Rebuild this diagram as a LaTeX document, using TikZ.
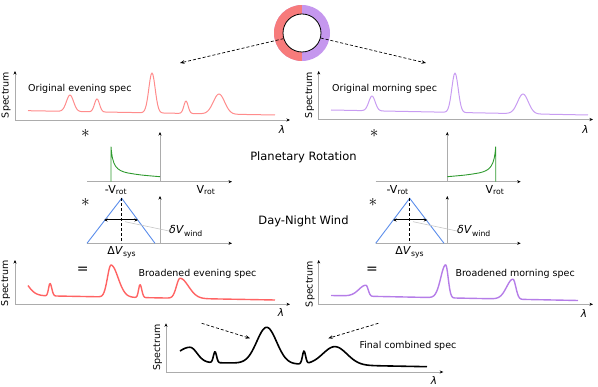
\documentclass[tikz,border=0pt]{standalone}
\usepackage{fontspec}
\setmainfont{DejaVu Sans}
\usepackage{xcolor}
\usepackage{tikz}
\usetikzlibrary{arrows.meta}

\definecolor{ringred}{HTML}{F77B7B}
\definecolor{ringpurple}{HTML}{C597EE}
\definecolor{origred}{HTML}{FF8C8C}
\definecolor{origpurple}{HTML}{C89CF2}
\definecolor{broadred}{HTML}{FF6363}
\definecolor{broadpurple}{HTML}{B57DE8}
\definecolor{kernelgreen}{HTML}{2E9A2E}
\definecolor{windblue}{HTML}{5B8DEB}

\begin{document}
\begin{tikzpicture}[
    x=1pt, y=-1pt,
    declare function={
        gpk(\xx,\cc,\ww)=exp(-min(abs((\xx-\cc)/\ww),5)*min(abs((\xx-\cc)/\ww),5));
        skw(\xx,\cc,\lft,\rgt)=min(abs((\xx-\cc)/((\xx<\cc)?\lft:\rgt)),5);
        apk(\xx,\cc,\lft,\rgt)=exp(-skw(\xx,\cc,\lft,\rgt)*skw(\xx,\cc,\lft,\rgt));
    },
    >={Stealth[length=3.5pt, width=3pt, color=black]},
    axisline/.style={draw=gray!65, line width=0.8pt, ->},
    axispair/.style={draw=gray!65, line width=0.8pt, <->},
    link/.style={densely dashed, line width=0.7pt, -{Stealth[length=4.5pt, width=3.5pt]}},
    txt/.style={font=\fontsize{9.5}{11}\selectfont, inner sep=0pt},
    ylab/.style={txt, rotate=90},
    lam/.style={font=\fontsize{10.5}{12}\selectfont\itshape, inner sep=0pt},
    heading/.style={font=\fontsize{11.5}{13}\selectfont, inner sep=0pt},
    vel/.style={font=\fontsize{11}{13}\selectfont, inner sep=0pt},
    conv/.style={font=\fontsize{18}{18}\selectfont, inner sep=0pt},
    eqsign/.style={font=\fontsize{14}{14}\selectfont, inner sep=0pt},
    evorig/.style={origred, line width=1pt, line join=round},
    moorig/.style={origpurple, line width=1pt, line join=round},
    evbroad/.style={broadred, line width=1.4pt, line join=round},
    mobroad/.style={broadpurple, line width=1.4pt, line join=round},
    combined/.style={black, line width=1.6pt, line join=round},
    kernel/.style={kernelgreen, line width=0.9pt},
    wind/.style={windblue, line width=0.9pt},
    mid/.style={densely dashed, line width=0.6pt},
    spread/.style={<->, line width=1pt},
    leader/.style={gray!45, line width=0.6pt}
]
    \useasboundingbox (0,0) rectangle (598,387);

    % planet with evening and morning limbs
    \node[circle, minimum size=56pt, inner sep=0pt, fill=ringpurple,
          path picture={\fill[ringred] (path picture bounding box.south west) rectangle (path picture bounding box.north);}]
          (ring) at (302,33) {};
    \node[circle, draw, line width=0.8pt, fill=white, minimum size=38pt, inner sep=0pt] (planet) at (302,33) {};
    \coordinate (ev-in) at (180,63);
    \coordinate (mo-in) at (426,63);
    \draw[link] (planet.197) -- (ev-in);
    \draw[link] (planet.345) -- (mo-in);

    % original spectra
    \draw[axispair] (15,71) |- (290,120);
    \node[ylab] (ev-y) at (6,95) {Spectrum};
    \node[lam] (ev-x) at (282,130) {λ};
    \draw[evorig] plot[domain=28:275, samples=260] (\x, {110.7+4.3*(\x-28)/247-16.4*gpk(\x,70,5)-13*gpk(\x,97,3.5)-39.9*gpk(\x,152,4.5)-12.5*gpk(\x,186,3)-20*gpk(\x,219,8)});
    \node[txt, anchor=west] (ev-title) at (28,89) {Original evening spec};

    \draw[axispair] (318.7,71) |- (593,119.5);
    \node[ylab] (mo-y) at (309.5,95) {Spectrum};
    \node[lam] (mo-x) at (585.5,130) {λ};
    \draw[moorig] plot[domain=331:588, samples=260] (\x, {110+5*(\x-331)/257-14.8*gpk(\x,372,4.5)-39.4*gpk(\x,455,4.5)-19.7*gpk(\x,523,7.5)});
    \node[txt, anchor=west] (mo-title) at (332,89) {Original morning spec};

    % rotation kernels
    \node[conv] (ev-conv1) at (85.5,133) {$\ast$};
    \node[conv] (mo-conv1) at (374.3,133) {$\ast$};
    \node[heading] (rot-title) at (303.5,157) {Planetary Rotation};

    \draw[axisline] (87,181.7) -- (232,181.7);
    \draw[axisline] (160,181.7) -- (160,132);
    \draw[kernel] (111,181.7) -- (111,146.7) .. controls (112.5,166) and (116,170.5) .. (128,173) .. controls (140,175) .. (160,176.7);
    \node[vel] (ev-vmin) at (116,190) {-V\textsubscript{rot}};
    \node[vel] (ev-vmax) at (206,190) {V\textsubscript{rot}};

    \draw[axisline] (375.7,181.7) -- (520.7,181.7);
    \draw[axisline] (447.3,181.7) -- (447.3,132);
    \draw[kernel] (447.3,176.7) .. controls (466.7,175) .. (478.7,173) .. controls (490.7,170.5) and (494.2,166) .. (495.7,146.7) -- (495.7,181.7);
    \node[vel] (mo-vmin) at (397.7,190) {-V\textsubscript{rot}};
    \node[vel] (mo-vmax) at (495,190) {V\textsubscript{rot}};

    % wind kernels
    \node[conv] (ev-conv2) at (85.5,202) {$\ast$};
    \node[conv] (mo-conv2) at (373,202) {$\ast$};
    \node[heading] (wind-title) at (303.5,221) {Day-Night Wind};

    \draw[axisline] (87,243.3) -- (232,243.3);
    \draw[axisline] (160,243.3) -- (160,196);
    \draw[wind] (87,243.3) -- (121.7,198.3) -- (155,243.3);
    \draw[mid] (121.7,198.3) -- (121.7,243.3);
    \draw[spread] (104,220) -- (138,220);
    \node[vel, anchor=west] (ev-dv) at (169,231) {\textit{δV}\textsubscript{wind}};
    \coordinate (ev-dvc) at (125,221.7);
    \draw[leader] (ev-dvc) -- (ev-dv.west);
    \node[vel] (ev-sys) at (121.7,252) {Δ\textit{V}\textsubscript{sys}};

    \draw[axisline] (375.7,243.3) -- (520.7,243.3);
    \draw[axisline] (447.3,243.3) -- (447.3,196);
    \draw[wind] (375.7,243.3) -- (409.7,198.3) -- (444,243.3);
    \draw[mid] (409.7,198.3) -- (409.7,243.3);
    \draw[spread] (393,220) -- (427.3,220);
    \node[vel, anchor=west] (mo-dv) at (457,231) {\textit{δV}\textsubscript{wind}};
    \coordinate (mo-dvc) at (413,221.7);
    \draw[leader] (mo-dvc) -- (mo-dv.west);
    \node[vel] (mo-sys) at (409.7,252) {Δ\textit{V}\textsubscript{sys}};

    % broadened spectra
    \node[eqsign] (ev-eq) at (82.8,270) {=};
    \draw[axispair] (15,260) |- (290,304.3);
    \node[ylab] (evb-y) at (5.5,283) {Spectrum};
    \node[lam] (evb-x) at (281,313) {λ};
    \draw[evbroad] plot[domain=28:275, samples=300] (\x, {295.5+4.5*(\x-28)/247-20*apk(\x,18,10,12)-12.5*apk(\x,50,2,2.5)-32*apk(\x,111,5,10)-13*apk(\x,140,2,2.5)-20*apk(\x,180,5,12)});
    \node[txt, anchor=west] (evb-title) at (138.5,274) {Broadened evening spec};

    \node[eqsign] (mo-eq) at (372,270) {=};
    \draw[axispair] (318.7,260) |- (593,304.3);
    \node[ylab] (mob-y) at (310,284) {Spectrum};
    \node[lam] (mob-x) at (584,313.5) {λ};
    \draw[mobroad] plot[domain=331:578, samples=300] (\x, {295.5+5*(\x-331)/247-11*apk(\x,366,10,3)-33*apk(\x,445.7,7,3.5)-20*apk(\x,513,9,4)});
    \node[txt, anchor=west] (mob-title) at (455.3,274) {Broadened morning spec};

    % final combined spectrum
    \draw[axispair] (166,323.3) |- (443.3,372);
    \node[ylab] (fin-y) at (157.5,347.5) {Spectrum};
    \node[lam] (fin-x) at (434,380.5) {λ};
    \draw[combined] plot[domain=180:427, samples=300] (\x, {362+4.7*(\x-180)/247-14.9*apk(\x,190,18,10)-11*gpk(\x,215,2.2)-36.3*gpk(\x,266.7,14)-12.7*gpk(\x,304,2.2)-18.3*gpk(\x,335,17)});
    \node[txt, anchor=west] (fin-title) at (359.3,346) {Final combined spec};
    \coordinate (fin-ev) at (201.7,323.3);
    \coordinate (fin-evt) at (250,338.3);
    \coordinate (fin-mo) at (378.3,323.3);
    \coordinate (fin-mot) at (328.3,338.3);
    \draw[link] (fin-ev) -- (fin-evt);
    \draw[link] (fin-mo) -- (fin-mot);
\end{tikzpicture}
\end{document}
